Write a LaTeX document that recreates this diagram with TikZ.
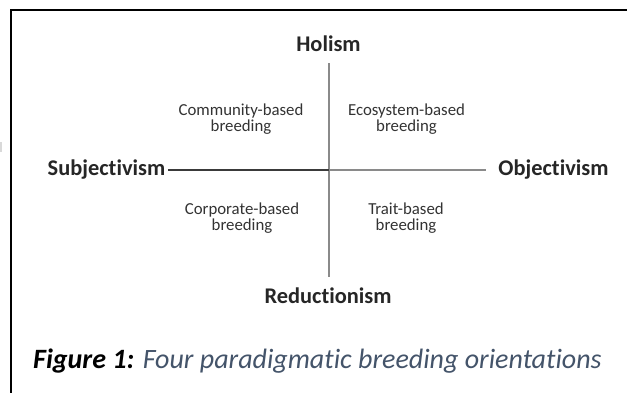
\documentclass[tikz,border=0pt]{standalone}
\usepackage{fontspec}
\setmainfont[Ligatures=NoCommon]{Carlito}
\usetikzlibrary{calc}
\definecolor{txt}{HTML}{262626}
\definecolor{qtxt}{HTML}{333333}
\definecolor{captc}{HTML}{44546A}
\definecolor{axdark}{HTML}{3A3A3A}
\definecolor{axlight}{HTML}{8A8A8A}
\begin{document}
\begin{tikzpicture}[x=1pt,y=-1pt,
  axislabel/.style={font=\fontsize{22.4}{24}\selectfont\bfseries, text=txt, inner sep=0pt},
  quad/.style={font=\fontsize{16.8}{16}\selectfont, text=qtxt, align=center, inner sep=0pt},
  axisline/.style={line width=1.3pt}]
\useasboundingbox (0,0) rectangle (627,392);
\fill[white] (0,0) rectangle (627,392);
\fill[black!15] (0,142) rectangle (1.5,152);
\draw[line width=2pt] (11,393) -- (11,10) -- (628,10);
\node[axislabel] (hol) at (328.5,44) {Holism};
\node[axislabel] (red) at (328,296) {Reductionism};
\node[axislabel] (subj) at (106.5,170) {Subjectivism};
\node[axislabel] (obj) at (553.5,170) {Objectivism};
\coordinate (c) at (329,170);
\node[quad] (cb) at (241,119) {Community-based\\breeding};
\node[quad] (eb) at (406.5,119) {Ecosystem-based\\breeding};
\node[quad] (pb) at (242,218.5) {Corporate-based\\breeding};
\node[quad] (tb) at (406,218.5) {Trait-based\\breeding};
\draw[axisline, axlight, shorten <=11pt, shorten >=11pt] (hol.south -| c) -- (red.north -| c);
\draw[axisline, axdark, shorten <=3pt] (subj.east) -- (c);
\draw[axisline, axlight, shorten >=12pt] (c) -- (obj.west);
\node[inner sep=0pt, font=\fontsize{28}{30}\selectfont\itshape, anchor=base west] (cap) at (33,368)
  {\textbf{Figure 1:} \textcolor{captc}{Four paradigmatic breeding orientations}};
\end{tikzpicture}
\end{document}
